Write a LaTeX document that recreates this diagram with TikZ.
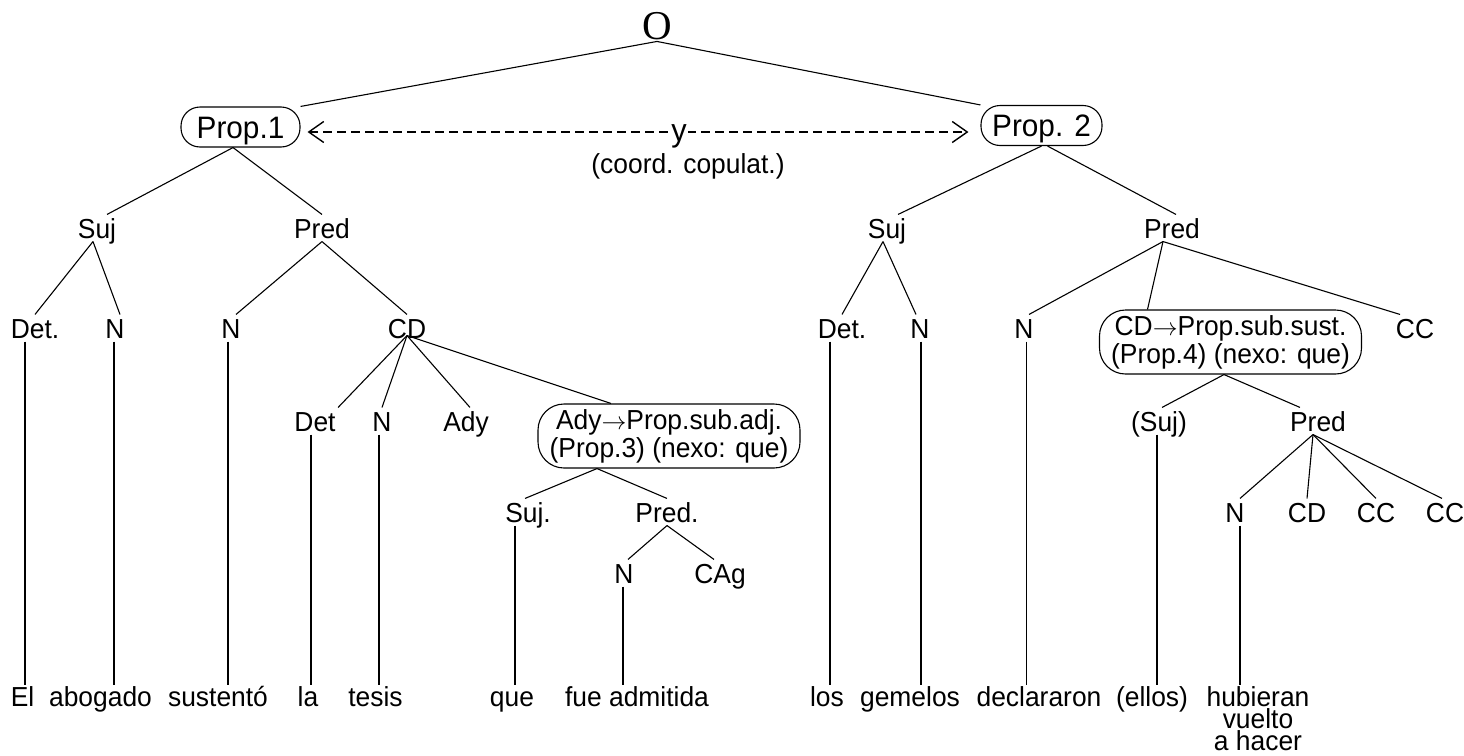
\documentclass[tikz,border=0pt]{standalone}
\usepackage{fontspec}
\setmainfont{Liberation Sans}[FakeStretch=0.96]
\newfontfamily\serifO{Liberation Serif}
\usetikzlibrary{arrows.meta}
\newcommand{\rarr}{\ensuremath{\rightarrow}}
\tikzset{
  lab/.style={font=\fontsize{27.5pt}{28pt}\selectfont, text height=20pt, text depth=0pt, inner xsep=2pt, inner ysep=3pt, anchor=base},
  leaf/.style={font=\fontsize{27.5pt}{22pt}\selectfont, text height=20pt, inner xsep=1pt, inner ysep=1pt, anchor=north},
  leafm/.style={font=\fontsize{27.5pt}{22pt}\selectfont, align=center, inner xsep=1pt, inner ysep=1pt, anchor=north},
  prop/.style={draw, rounded corners=19pt, font=\fontsize{31pt}{32pt}\selectfont, text height=22pt, text depth=0pt, minimum height=40pt, inner sep=0pt},
  bigbox/.style={draw, rounded corners=26pt, align=center, font=\fontsize{27.5pt}{28pt}\selectfont, minimum width=262pt, minimum height=64pt, inner sep=0pt},
  dasharrow/.style={dashed, dash pattern=on 9pt off 5pt, line width=1.3pt,
    {Straight Barb[length=15pt,width=21pt,line width=1.4pt]}-{Straight Barb[length=15pt,width=21pt,line width=1.4pt]}},
}
\begin{document}
\begin{tikzpicture}[x=1pt,y=-1pt,line width=1.1pt]
\useasboundingbox (0,0) rectangle (1464,755);
% top
\node[font=\serifO\fontsize{41pt}{41pt}\selectfont, inner sep=1pt, anchor=base] (o) at (657,39.5) {O};
\node[prop, minimum width=119pt] (p1) at (240.5,127) {Prop.1};
\node[prop, minimum width=121pt] (p2) at (1041.5,125.5) {Prop. 2};
\coordinate (al) at ([xshift=7pt,yshift=-5pt]p1.east);
\draw[dasharrow] (al) -- node[pos=0.562, fill=white, inner sep=1pt, yshift=-4.5pt, font=\fontsize{32pt}{32pt}\selectfont] (yy) {y} ([xshift=-12pt]al -| p2.west);
\node[lab] (coord) at (688,173) {(coord. copulat.)};
% level 2
\node[lab] (suj1) at (97,238) {Suj};
\node[lab] (pred1) at (322,238) {Pred};
\node[lab] (suj3) at (887,238) {Suj};
\node[lab] (pred3) at (1172,238) {Pred};
% level 3
\node[lab] (det1) at (35,338) {Det.};
\node[lab] (n1) at (115,338) {N};
\node[lab] (n2) at (231,338) {N};
\node[lab] (cd1) at (407,338) {CD};
\node[lab] (det3) at (842,338) {Det.};
\node[lab] (n5) at (920,338) {N};
\node[lab] (n6) at (1024,338) {N};
\node[lab] (cc1) at (1415,338) {CC};
\node[bigbox] (b2) at (1230.5,342) {CD\rarr Prop.sub.sust.\\(Prop.4) (nexo: que)};
% level 4
\node[lab] (det2) at (315,431) {Det};
\node[lab] (n3) at (382,431) {N};
\node[lab] (ady) at (466,431) {Ady};
\node[bigbox] (b1) at (669,436) {Ady\rarr Prop.sub.adj.\\(Prop.3) (nexo: que)};
\node[lab] (sujR) at (1159,431) {(Suj)};
\node[lab] (predR) at (1318,431) {Pred};
% level 5
\node[lab] (suj2) at (528,522) {Suj.};
\node[lab] (pred2) at (667,522) {Pred.};
\node[lab] (n7) at (1235,522) {N};
\node[lab] (cd2) at (1307,522) {CD};
\node[lab] (cc2) at (1376,522) {CC};
\node[lab] (cc3) at (1445,522) {CC};
% level 6
\node[lab] (n4) at (624,583) {N};
\node[lab] (cag) at (720,583) {CAg};
% leaves
\node[leaf] (el) at (22.5,685) {El};
\node[leaf] (abogado) at (100.5,685) {abogado};
\node[leaf] (sustento) at (218,685) {sustentó};
\node[leaf] (la) at (308,685) {la};
\node[leaf] (tesis) at (375.5,685) {tesis};
\node[leaf] (que) at (512,685) {que};
\node[leaf] (fue) at (637,685) {fue admitida};
\node[leaf] (los) at (827,685) {los};
\node[leaf] (gemelos) at (910,685) {gemelos};
\node[leaf] (declararon) at (1039,685) {declararon};
\node[leaf] (ellos) at (1152,685) {(ellos)};
\node[leafm] (hub) at (1258,685) {hubieran\\vuelto\\a hacer};
% edges top
\draw (o.south) -- (p1.north east);
\draw (o.south) -- (p2.north west);
\draw ([xshift=-7.5pt]p1.south) -- ([xshift=10pt]suj1.north);
\draw ([xshift=-7.5pt]p1.south) -- (pred1.north);
\draw ([xshift=-4pt]suj1.south) -- (det1.north);
\draw ([xshift=-4pt]suj1.south) -- ([xshift=5pt]n1.north);
\draw (pred1.south) -- ([xshift=5pt]n2.north);
\draw (pred1.south) -- (cd1.north);
\draw ([yshift=6pt]cd1.south) -- (det2.north east);
\draw ([yshift=6pt]cd1.south) -- (n3.north);
\draw ([yshift=6pt]cd1.south) -- ([xshift=4pt]ady.north);
\draw ([yshift=6pt]cd1.south) -- ([xshift=-58pt]b1.north);
\draw ([xshift=-72pt]b1.south) -- ([xshift=-3pt]suj2.north);
\draw ([xshift=-72pt]b1.south) -- (pred2.north);
\draw (pred2.south) -- ([xshift=4pt]n4.north);
\draw (pred2.south) -- ([xshift=-6pt]cag.north);
% edges right
\draw (p2.south) -- ([xshift=11pt]suj3.north);
\draw ([xshift=6pt]p2.south) -- ([xshift=4pt]pred3.north);
\draw ([xshift=-4pt]suj3.south) -- (det3.north);
\draw ([xshift=-4pt]suj3.south) -- ([xshift=-4pt]n5.north);
\draw ([xshift=-9pt]pred3.south) -- ([xshift=5pt]n6.north);
\draw ([xshift=-9pt]pred3.south) -- ([xshift=-83pt]b2.north);
\draw ([xshift=-9pt]pred3.south) -- ([xshift=-15pt]cc1.north);
\draw ([xshift=-6.5pt]b2.south) -- ([xshift=3pt]sujR.north);
\draw ([xshift=-6.5pt]b2.south) -- ([xshift=-18pt]predR.north);
\draw ([xshift=-5pt]predR.south) -- ([xshift=5pt]n7.north);
\draw ([xshift=-5pt]predR.south) -- (cd2.north);
\draw ([xshift=-5pt]predR.south) -- (cc2.north);
\draw ([xshift=-5pt]predR.south) -- ([xshift=-3pt]cc3.north);
% vertical lines to leaves
\draw ([xshift=-10pt]det1.south) -- ([xshift=-10pt]det1.south |- el.north);
\draw ([xshift=-1pt]n1.south) -- ([xshift=-1pt]n1.south |- abogado.north);
\draw ([xshift=-3pt]n2.south) -- ([xshift=-3pt]n2.south |- sustento.north);
\draw ([xshift=-4pt]det2.south) -- ([xshift=-4pt]det2.south |- la.north);
\draw ([xshift=-3pt]n3.south) -- ([xshift=-3pt]n3.south |- tesis.north);
\draw ([xshift=-13pt]suj2.south) -- ([xshift=-13pt]suj2.south |- que.north);
\draw ([xshift=-1pt]n4.south) -- ([xshift=-1pt]n4.south |- fue.north);
\draw ([xshift=-12pt]det3.south) -- ([xshift=-12pt]det3.south |- los.north);
\draw ([xshift=1pt]n5.south) -- ([xshift=1pt]n5.south |- gemelos.north);
\draw ([xshift=2.5pt]n6.south) -- ([xshift=2.5pt]n6.south |- declararon.north);
\draw ([xshift=-2pt]sujR.south) -- ([xshift=-2pt]sujR.south |- ellos.north);
\draw ([xshift=5pt]n7.south) -- ([xshift=5pt]n7.south |- hub.north);
\end{tikzpicture}
\end{document}
